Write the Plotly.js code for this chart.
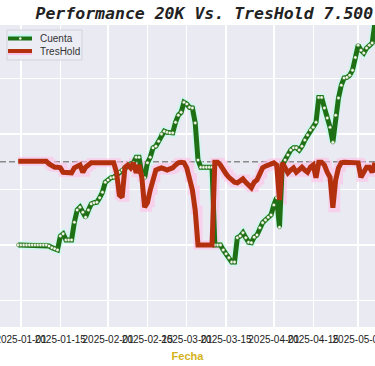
<!DOCTYPE html>
<html><head><meta charset="utf-8">
<script src="https://cdn.plot.ly/plotly-3.0.1.min.js"></script>
<style>html,body{margin:0;padding:0;background:#fff}#chart{width:375px;height:366px}</style>
</head><body><div id="chart"></div>
<script>
const fechas = [
"2024-12-31",
"2025-01-01","2025-01-02","2025-01-03","2025-01-04","2025-01-05","2025-01-06","2025-01-07","2025-01-08","2025-01-09","2025-01-10",
"2025-01-11","2025-01-12","2025-01-13","2025-01-14","2025-01-15","2025-01-16","2025-01-17","2025-01-18","2025-01-19","2025-01-20",
"2025-01-21","2025-01-22","2025-01-23","2025-01-24","2025-01-25","2025-01-26","2025-01-27","2025-01-28","2025-01-29","2025-01-30","2025-01-31",
"2025-02-01","2025-02-02","2025-02-03","2025-02-04","2025-02-05","2025-02-06","2025-02-07","2025-02-08","2025-02-09","2025-02-10",
"2025-02-11","2025-02-12","2025-02-13","2025-02-14","2025-02-15","2025-02-16","2025-02-17","2025-02-18","2025-02-19","2025-02-20",
"2025-02-21","2025-02-22","2025-02-23","2025-02-24","2025-02-25","2025-02-26","2025-02-27","2025-02-28",
"2025-03-01","2025-03-02","2025-03-03","2025-03-04","2025-03-05","2025-03-06","2025-03-07","2025-03-08","2025-03-09","2025-03-10",
"2025-03-11","2025-03-12","2025-03-13","2025-03-14","2025-03-15","2025-03-16","2025-03-17","2025-03-18","2025-03-19","2025-03-20",
"2025-03-21","2025-03-22","2025-03-23","2025-03-24","2025-03-25","2025-03-26","2025-03-27","2025-03-28","2025-03-29","2025-03-30","2025-03-31",
"2025-04-01","2025-04-02","2025-04-03","2025-04-04","2025-04-05","2025-04-06","2025-04-07","2025-04-08","2025-04-09","2025-04-10",
"2025-04-11","2025-04-12","2025-04-13","2025-04-14","2025-04-15","2025-04-16","2025-04-17","2025-04-18","2025-04-19","2025-04-20",
"2025-04-21","2025-04-22","2025-04-23","2025-04-24","2025-04-25","2025-04-26","2025-04-27","2025-04-28","2025-04-29","2025-04-30",
"2025-05-01","2025-05-02","2025-05-03","2025-05-04","2025-05-05","2025-05-06","2025-05-07"
];
const cuenta = [
20000,
20000,20000,20000,20000,20000,20000,20000,20000,20000,20000,
19980,19950,19930,19910,20160,20200,20090,20090,20090,20410,
20630,20680,20590,20500,20630,20740,20760,20770,20850,20950,21130,
21170,21210,21220,21260,21310,21350,21400,21440,21460,21480,
21580,21580,21280,21210,21480,21580,21750,21780,21870,22000,
22050,22030,22020,22020,22210,22340,22390,22570,
22540,22480,22470,22200,21530,21400,21400,21400,21400,21400,
20000,20000,20000,19910,19840,19770,19690,19690,20130,20160,
20220,20130,20050,20040,20140,20180,20310,20400,20450,20500,20540,
20720,20850,20320,21440,21530,21620,21710,21750,21750,21710,
21780,21890,21980,22070,22120,22210,22660,22660,22470,22290,
22120,21850,22340,22650,22880,23010,23020,23060,23150,23380,
23600,23510,23460,23550,23600,23640,24010
];
const treshold = [
21510,
21510,21510,21510,21510,21510,21510,21510,21510,21510,21510,
21460,21420,21400,21400,21390,21310,21300,21300,21300,21390,
21420,21440,21310,21400,21440,21480,21480,21480,21480,21480,21480,
21480,21480,21480,21310,20900,20860,21400,21440,21390,21480,
21300,21440,21220,20680,20760,20990,21210,21350,21370,21390,
21370,21350,21370,21390,21440,21480,21490,21480,
21390,21210,20990,20630,20000,20000,20000,20000,20000,20000,
21490,21490,21440,21350,21280,21220,21170,21130,21120,21150,
21190,21130,21080,21030,21130,21170,21280,21390,21420,21440,21460,
21480,21440,20810,21480,21400,21300,21350,21390,21310,21350,
21400,21350,21310,21400,21440,21210,21490,21490,21440,21310,
21220,20670,21170,21390,21480,21490,21490,21490,21490,21490,
21480,21220,21310,21400,21400,21310,21480
];
const nivelTreshold = 21500;
const tickFechas = ["2025-01-01","2025-01-15","2025-02-01","2025-02-15","2025-03-01","2025-03-15","2025-04-01","2025-04-15","2025-05-01"];
const tickTextos = ["2025-01-01","2025-01-15","2025-02-01","2025-02-15","2025-03-01","2025-03-15","2025-04-01","2025-04-15","2025-05-01"];
const nombres = ["Cuenta", "TresHold"];

const verde = '#1f6f14', rojo = '#b3300f';

const traces = [
  {x: fechas, y: cuenta, mode: 'lines', line: {color: 'rgba(180,255,235,0.55)', width: 8}, showlegend: false, hoverinfo: 'skip'},
  {x: fechas, y: treshold, mode: 'lines', line: {color: 'rgba(255,190,230,0.6)', width: 9, shape: 'hv'}, showlegend: false, hoverinfo: 'skip'},
  {x: fechas, y: cuenta, name: nombres[0], mode: 'lines+markers', showlegend: false,
   line: {color: verde, width: 5},
   marker: {size: 3.5, color: '#f4f4e8', line: {color: verde, width: 0.5}}},
  {x: fechas, y: treshold, name: nombres[1], mode: 'lines', showlegend: false,
   line: {color: rojo, width: 5}}
];

// custom legend (box, swatches, labels) in paper coordinates
const H = 302, B = 327;
const py = p => (B - p) / H;
const px = p => p / 375;
const shapes = [
  {type: 'line', xref: 'paper', x0: 0, x1: 1, yref: 'y', y0: nivelTreshold, y1: nivelTreshold,
   line: {color: '#8a8a8a', width: 1.5, dash: '6px,3px'}, layer: 'below'},
  {type: 'rect', xref: 'paper', yref: 'paper', x0: px(7), x1: px(82), y0: py(60), y1: py(30),
   fillcolor: 'rgba(236,236,244,0.92)', line: {color: '#d2d2da', width: 1}},
  {type: 'line', xref: 'paper', yref: 'paper', x0: px(8), x1: px(32), y0: py(36), y1: py(36),
   line: {color: 'rgba(180,255,235,0.8)', width: 3}},
  {type: 'line', xref: 'paper', yref: 'paper', x0: px(8), x1: px(32), y0: py(38.5), y1: py(38.5),
   line: {color: verde, width: 4}},
  {type: 'line', xref: 'paper', yref: 'paper', x0: px(8), x1: px(32), y0: py(53.5), y1: py(53.5),
   line: {color: 'rgba(255,190,230,0.9)', width: 3}},
  {type: 'line', xref: 'paper', yref: 'paper', x0: px(8), x1: px(32), y0: py(51), y1: py(51),
   line: {color: rojo, width: 4}},
  {type: 'circle', xref: 'paper', yref: 'paper', x0: px(19), x1: px(21.5), y0: py(39.7), y1: py(37.3),
   fillcolor: '#f4f4e8', line: {width: 0}}
];
const annotations = [
  {xref: 'paper', yref: 'paper', x: px(38), y: py(38), xanchor: 'left', yanchor: 'middle', showarrow: false,
   text: nombres[0], font: {size: 10, color: '#333'}},
  {xref: 'paper', yref: 'paper', x: px(38), y: py(51), xanchor: 'left', yanchor: 'middle', showarrow: false,
   text: nombres[1], font: {size: 10, color: '#333'}}
];

const layout = {
  width: 375, height: 366,
  margin: {l: 0, r: 0, t: 25, b: 39},
  paper_bgcolor: '#ffffff',
  plot_bgcolor: '#eaeaf2',
  font: {family: 'Liberation Sans, Arial, sans-serif', color: '#333'},
  title: {text: 'Performance 20K Vs. TresHold 7.500', x: 0.545, xanchor: 'center', xref: 'container',
          y: 0.963, yanchor: 'middle', yref: 'container',
          font: {family: 'DejaVu Sans Mono, monospace', size: 16.5, weight: 'bold', style: 'italic', color: '#222'}},
  xaxis: {type: 'date', range: ['2024-12-24 12:40', '2025-05-07 00:00'],
          tickvals: tickFechas, ticktext: tickTextos, tickangle: 0, tickfont: {size: 10, color: '#222'},
          ticklabeloverflow: 'allow', showgrid: true, gridcolor: '#ffffff', gridwidth: 1.3,
          zeroline: false, showline: false, ticks: 'outside', ticklen: 3, tickcolor: 'rgba(0,0,0,0)',
          title: {text: 'Fecha', font: {size: 11, color: '#d4b21a', weight: 'bold'}, standoff: 8}},
  yaxis: {range: [18520, 23965], dtick: 1000, tick0: 0, showticklabels: false,
          showgrid: true, gridcolor: '#ffffff', gridwidth: 1.3, zeroline: false, showline: false, ticks: ''},
  shapes: shapes,
  annotations: annotations,
  showlegend: false
};

Plotly.newPlot('chart', traces, layout, {displayModeBar: false, staticPlot: true});
</script>
</body></html>
